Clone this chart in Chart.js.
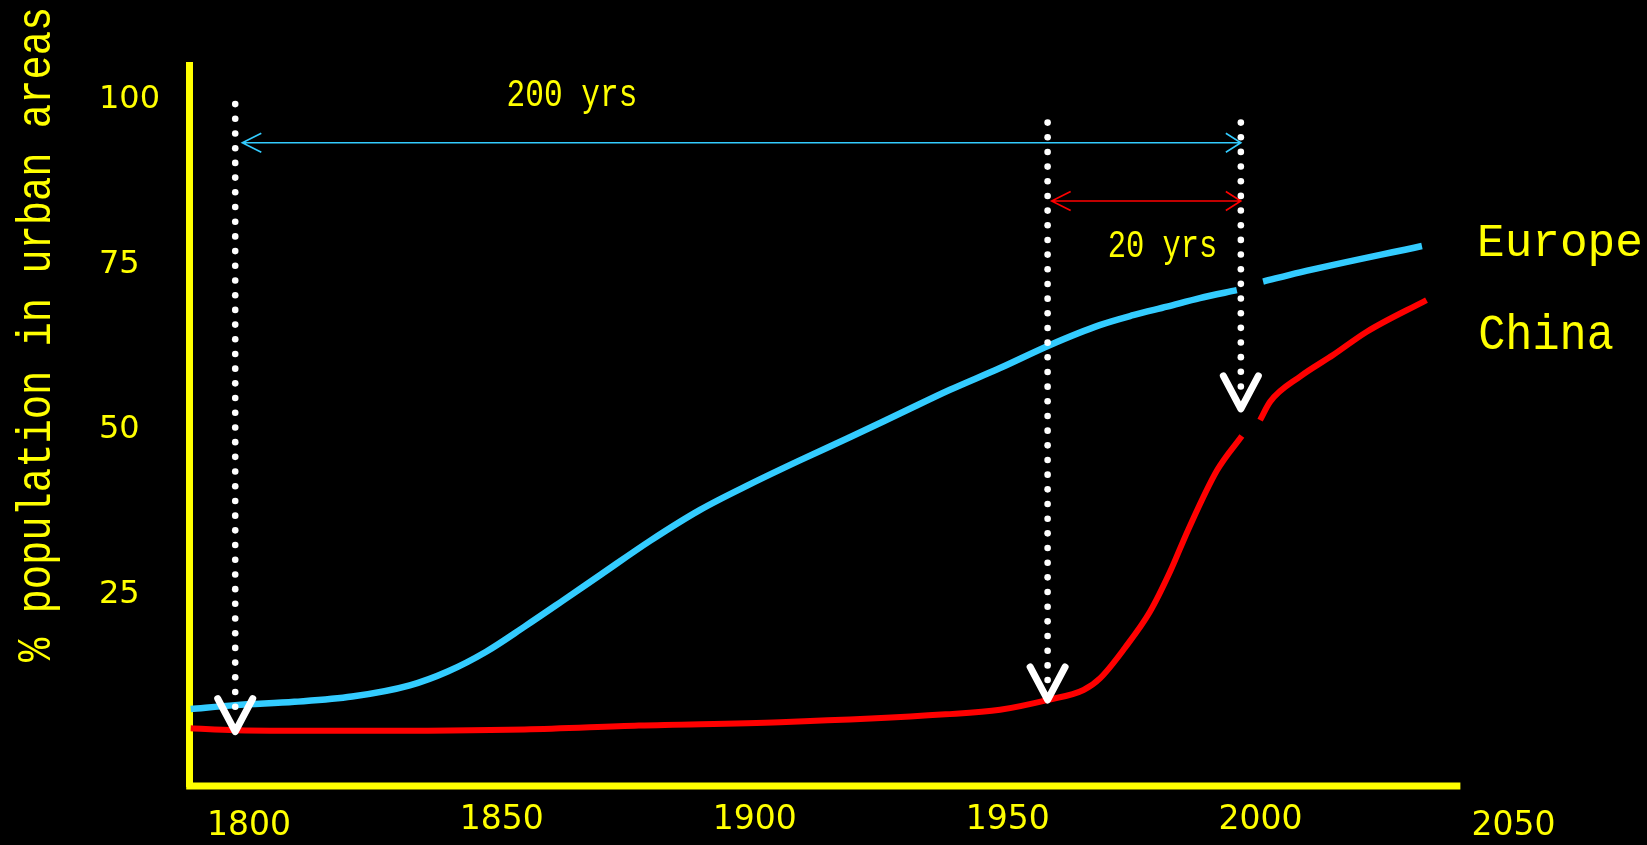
<!DOCTYPE html>
<html><head><meta charset="utf-8">
<script src="https://cdn.jsdelivr.net/npm/chart.js@4.4.1/dist/chart.umd.min.js"></script>
<style>html,body{margin:0;padding:0;background:#000;overflow:hidden}canvas{display:block}</style>
</head><body>
<canvas id="c" width="1647" height="845"></canvas>
<script>
// ---- data ----
const xTickYears = [1800, 1850, 1900, 1950, 2000, 2050];
const yTickValues = [25, 50, 75, 100];

const europeYears  = [1788.5, 1797.3, 1809.0, 1820.4, 1831.8, 1839.3, 1846.9, 1854.5, 1862.0, 1869.6, 1879.3, 1889.2, 1899.1, 1908.9, 1918.8, 1928.7, 1938.6, 1948.5, 1958.4, 1968.2, 1974.8, 1981.5, 1988.0, 1995.3, 1998.0, 2000.5, 2007.8, 2031.9];
const europeValues = [7.2, 7.8, 8.3, 9.1, 10.8, 12.9, 15.9, 19.7, 23.6, 27.6, 32.7, 37.4, 41.3, 44.9, 48.4, 52.0, 55.6, 58.9, 62.4, 65.4, 66.9, 68.2, 69.5, 70.7, null, 72.0, 73.4, 77.4];

const chinaYears  = [1788.5, 1797.3, 1820.4, 1854.5, 1877.1, 1905.0, 1937.7, 1948.5, 1958.0, 1965.0, 1968.3, 1973.2, 1978.1, 1982.1, 1985.7, 1991.4, 1996.3, 1998.0, 1999.9, 2001.9, 2007.8, 2014.4, 2021.0, 2032.8];
const chinaValues = [4.3, 4.0, 3.9, 4.1, 4.7, 5.2, 6.4, 7.1, 8.6, 10.1, 11.9, 16.5, 21.9, 28.0, 34.4, 43.4, 48.6, null, 51.0, 53.8, 57.6, 60.9, 64.4, 69.2];

// annotation marks (in data units)
const markerYears   = [1797.3, 1957.9, 1996.1];
const markerTops    = [98.9, 96.1, 96.1];
const markerBottoms = [7.56, 11.6, 56.1];
const markerTips    = [3.77, 8.58, 52.7];

const spanFrom  = [1798.7, 1958.7];
const spanTo    = [1996.1, 1996.1];
const spanLevel = [93.04, 84.22];

const YELLOW = '#ffff00', BLUE = '#33ccff', RED = '#ff0000';
const MONO = '"Liberation Mono", "DejaVu Sans Mono", monospace';

function fitText(ctx, text, left, baseline, refChar, refHeight, width, rotate) {
  ctx.save();
  ctx.font = '100px ' + MONO;
  const h = ctx.measureText(refChar).actualBoundingBoxAscent;
  const size = 100 * refHeight / h;
  ctx.font = size + 'px ' + MONO;
  const m = ctx.measureText(text);
  const ink = m.actualBoundingBoxLeft + m.actualBoundingBoxRight;
  const sx = width / ink;
  ctx.translate(left, baseline);
  if (rotate) ctx.rotate(-Math.PI / 2);
  ctx.scale(sx, 1);
  ctx.fillStyle = YELLOW;
  ctx.textAlign = 'left';
  ctx.textBaseline = 'alphabetic';
  ctx.fillText(text, m.actualBoundingBoxLeft, 0);
  ctx.restore();
}

const decor = {
  id: 'decor',
  beforeDraw(chart) {
    const ctx = chart.ctx;
    ctx.save(); ctx.fillStyle = '#000'; ctx.fillRect(0, 0, chart.width, chart.height); ctx.restore();
  },
  beforeDatasetsDraw(chart) {
    const {ctx, chartArea, scales: {x}} = chart;
    ctx.save();
    ctx.strokeStyle = YELLOW; ctx.lineWidth = 7; ctx.lineCap = 'butt';
    ctx.beginPath();
    ctx.moveTo(chartArea.left - 3.5, chartArea.bottom);
    ctx.lineTo(x.getPixelForValue(2039.5), chartArea.bottom);
    ctx.stroke();
    ctx.restore();
  },
  afterDatasetsDraw(chart) {
    const {ctx, scales: {x, y}} = chart;
    ctx.save();
    // span arrows
    const spanColors = [BLUE, RED];
    for (let i = 0; i < spanFrom.length; i++) {
      const x1 = x.getPixelForValue(spanFrom[i]), x2 = x.getPixelForValue(spanTo[i]), yy = y.getPixelForValue(spanLevel[i]);
      ctx.strokeStyle = spanColors[i]; ctx.lineWidth = 1.6; ctx.lineCap = 'butt';
      ctx.beginPath();
      ctx.moveTo(x1, yy); ctx.lineTo(x2, yy);
      ctx.moveTo(x1 + 19, yy - 9.5); ctx.lineTo(x1, yy); ctx.lineTo(x1 + 19, yy + 9.5);
      ctx.moveTo(x2 - 15, yy - 9.5); ctx.lineTo(x2, yy); ctx.lineTo(x2 - 15, yy + 9.5);
      ctx.stroke();
    }
    // dotted drops with V heads
    for (let i = 0; i < markerYears.length; i++) {
      const xx = x.getPixelForValue(markerYears[i]);
      const t = y.getPixelForValue(markerTops[i]), b = y.getPixelForValue(markerBottoms[i]);
      const n = Math.round((b - t) / 14.67);
      ctx.fillStyle = '#fff';
      for (let k = 0; k <= n; k++) {
        ctx.beginPath(); ctx.arc(xx, t + (b - t) * k / n, 3.3, 0, Math.PI * 2); ctx.fill();
      }
      const tip = y.getPixelForValue(markerTips[i]);
      ctx.strokeStyle = '#fff'; ctx.lineWidth = 7; ctx.lineCap = 'round'; ctx.lineJoin = 'round';
      ctx.beginPath();
      ctx.moveTo(xx - 17.5, tip - 33); ctx.lineTo(xx, tip); ctx.lineTo(xx + 17.5, tip - 33);
      ctx.stroke();
    }
    ctx.restore();
  },
  afterDraw(chart) {
    const {ctx, scales: {x, y}} = chart;
    fitText(ctx, '200 yrs', x.getPixelForValue(1851.27), y.getPixelForValue(98.67), '2', 25.7, 126.7, false);
    fitText(ctx, '20 yrs', x.getPixelForValue(1970.09), y.getPixelForValue(75.78), '2', 25.7, 105.7, false);
    fitText(ctx, 'Europe', x.getPixelForValue(2043.38), y.getPixelForValue(75.93), 'E', 30.7, 160, false);
    fitText(ctx, 'China', x.getPixelForValue(2043.38), y.getPixelForValue(61.79), 'h', 36, 132.3, false);
    fitText(ctx, '% population in urban areas', 50, 662, 'b', 35, 652, true);
  }
};

const toPts = (xs, ys) => xs.map((v, i) => ({x: v, y: ys[i]}));

new Chart(document.getElementById('c'), {
  type: 'line',
  data: {
    datasets: [
      {label: 'Europe', data: toPts(europeYears, europeValues), borderColor: BLUE, borderWidth: 6.5, pointRadius: 0, cubicInterpolationMode: 'monotone', spanGaps: false, fill: false},
      {label: 'China', data: toPts(chinaYears, chinaValues), borderColor: RED, borderWidth: 6, pointRadius: 0, cubicInterpolationMode: 'monotone', spanGaps: false, fill: false}
    ]
  },
  options: {
    responsive: false,
    animation: false,
    events: [],
    layout: {padding: {left: 99, top: 65, right: 133.5, bottom: 0}},
    plugins: {legend: {display: false}, tooltip: {enabled: false}, title: {display: false}},
    scales: {
      x: {
        type: 'linear', min: 1788.3, max: 2050,
        afterBuildTicks: s => { s.ticks = xTickYears.map(v => ({value: v})); },
        afterFit: s => { s.height = 59; },
        grid: {display: false, drawTicks: false},
        border: {display: false},
        ticks: {
          color: YELLOW, padding: 14.7, maxRotation: 0, autoSkip: false,
          callback: v => String(v),
          font: c => ({family: '"DejaVu Sans"', size: 33, lineHeight: (c.index === 0 || c.index === xTickYears.length - 1) ? 1.55 : 1.2})
        }
      },
      y: {
        type: 'linear', min: -4.46, max: 104.83,
        afterBuildTicks: s => { s.ticks = yTickValues.map(v => ({value: v})); },
        afterFit: s => { s.width = 90.7; },
        grid: {display: false, drawTicks: false},
        border: {display: true, color: YELLOW, width: 7},
        ticks: {color: YELLOW, padding: 0, crossAlign: 'far', labelOffset: 2.7, callback: v => String(v), font: {family: '"DejaVu Sans"', size: 32}}
      }
    }
  },
  plugins: [decor]
});
</script>
</body></html>
